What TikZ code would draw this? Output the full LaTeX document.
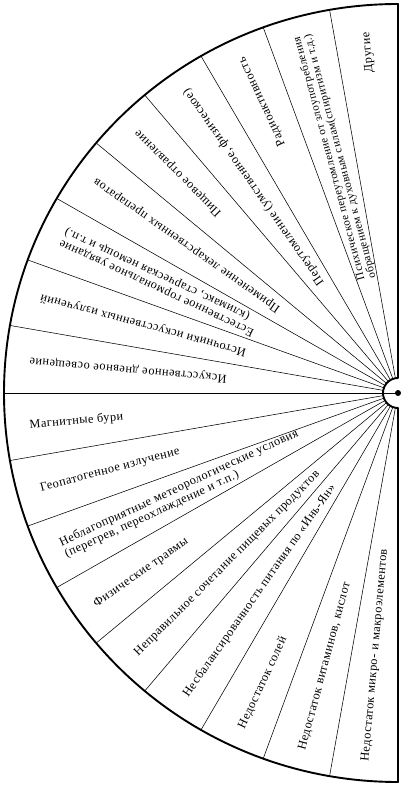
\documentclass[tikz,border=0pt]{standalone}
\usepackage{fontspec}
\setmainfont{Liberation Serif}[LetterSpace=4]
\tikzset{
  rim/.style={line width=1.9pt, line join=round},
  sector/.style={line width=0.55pt},
  lbl/.style={font=\fontsize{12.3}{12.5}\selectfont, inner sep=0pt}
}
\begin{document}
\begin{tikzpicture}[x=1pt, y=1pt]
  \useasboundingbox (-398,-393) rectangle (8,393);
  % sector boundaries, 10 degrees each
  \foreach \a in {100,110,...,170,190,200,...,260}
    \draw[sector] (\a:15) -- (\a:394 and 389);
  \draw[sector] (180:394 and 389) -- (0,0);
  % outer rim with the small half ring at the centre
  \draw[rim] (0,15) -- (90:394 and 389)
    arc[start angle=90, end angle=270, x radius=394pt, y radius=389pt]
    -- (0,-15) arc[start angle=270, end angle=90, radius=15pt] -- cycle;
  \fill (0,0) circle (3pt);
  % upper half: text read from the centre outwards
  \foreach \a/\txt in {
      115/{Радиоактивность},
      125/{Переутомление (умственное, физическое)},
      135/{Пищевое отравление},
      145/{Применение лекарственных препаратов},
      155/{Естественное гормональное увядание\\(климакс, старческая немощь и т.п.)},
      165/{Источники искусственных излучений},
      175/{Искусственное дневное освещение}}
    \node[lbl, rotate=\a, anchor=east, align=right] (up\a) at (\a:370) {\txt};
  \node[lbl, font=\fontsize{11.2}{11}\selectfont, rotate=105, anchor=east, align=right] (up105) at (105:370)
    {Психическое переутомление от злоупотребления\\обращением к духовным силам(спиритизм и т.д.)};
  \node[lbl, rotate=95, anchor=east] (up95) at (95:362) {Другие};
  % lower half: text read towards the centre
  \foreach \a/\txt in {
      185/{Магнитные бури},
      195/{Геопатогенное излучение},
      205/{Неблагоприятные метеорологические условия\\(перегрев, переохлаждение и т.п.)},
      215/{Физические травмы},
      225/{Неправильное сочетание пищевых продуктов},
      235/{Несбалансированность питания по «Инь-Ян»},
      245/{Недостаток солей},
      255/{Недостаток витаминов, кислот},
      265/{Недостаток микро- и макроэлементов}}
    \node[lbl, rotate=\a-180, anchor=west, align=left] (lo\a) at (\a:370) {\txt};
\end{tikzpicture}
\end{document}
